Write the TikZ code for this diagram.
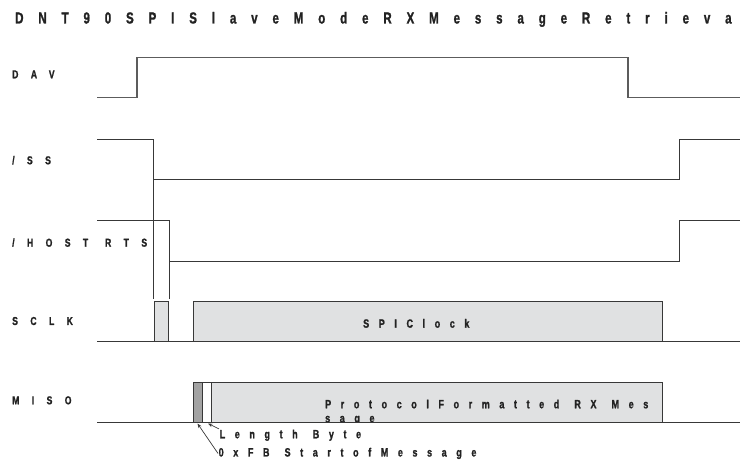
\documentclass[tikz,border=0pt]{standalone}
\usepackage{fontspec}
\setmainfont{Liberation Sans}
\newfontfamily\sigfont{Liberation Sans Bold}[FakeStretch=0.75,LetterSpace=108,FakeBold=1.2]
\newfontfamily\boxfont{Liberation Sans Bold}[FakeStretch=0.75,LetterSpace=80,FakeBold=1.2]
\newfontfamily\titlefont{Liberation Sans Bold}[FakeStretch=0.72,LetterSpace=93,FakeBold=1.2]
\usetikzlibrary{arrows.meta,positioning}
\definecolor{wire}{HTML}{383838}
\definecolor{davwire}{HTML}{5C5C5C}
\definecolor{clkfill}{HTML}{E0E1E2}
\definecolor{sofill}{HTML}{A3A3A3}
\definecolor{inkgray}{HTML}{222222}
\tikzset{
  wave/.style={draw=wire,line width=0.9pt},
  davwave/.style={draw=davwire,line width=1.1pt},
  sigbox/.style={draw=wire,line width=0.9pt,fill=clkfill},
  sofbox/.style={draw=wire,line width=0.9pt,fill=sofill},
  lenbox/.style={draw=wire,line width=0.9pt,fill=white},
  siglabel/.style={anchor=base west,inner sep=0pt,text=inkgray,
    font=\sigfont\fontsize{11.5}{13}\selectfont},
  boxtext/.style={anchor=base west,inner sep=0pt,text=inkgray,
    font=\boxfont\fontsize{12}{14}\selectfont},
  notetext/.style={anchor=base west,inner sep=0.5pt,text=inkgray,
    font=\boxfont\fontsize{12}{15}\selectfont},
  titletext/.style={anchor=base west,inner sep=0pt,text=inkgray,
    font=\titlefont\fontsize{16}{18}\selectfont},
  pointer/.style={draw=wire,line width=0.7pt,-{Stealth[length=4.5pt,width=3.5pt]}}
}

\begin{document}
\begin{tikzpicture}[x=1pt,y=-1pt]
	\useasboundingbox (0,0) rectangle (740,462);
	% title
	\node[titletext] (title) at (15,23.5) {DNT90SPISlaveModeRXMessageRetrieva};
	% signal names
	\node[siglabel] (davlbl) at (12,78.3) {DAV};
	\node[siglabel] (sslbl) at (12,164.3) {/SS};
	\node[siglabel] (rtslbl) at (12,246.7) {/HOST\hspace{2pt} RTS};
	\node[siglabel] (sclklbl) at (12,325) {SCLK};
	\node[siglabel] (misolbl) at (12,404.3) {MISO};
	% DAV
	\draw[davwave] (97,97.5)--(137,97.5)--(137,57.5)--(628,57.5)--(628,97.5)--(740,97.5);
	% /SS
	\draw[wave] (97,139)--(153.5,139)--(153.5,179.5)--(679,179.5)--(679,139)--(740,139);
	\draw[wave] (153.5,179.5)--(153.5,299);
	% /HOST RTS
	\draw[wave] (97,220)--(169.5,220)--(169.5,261)--(679,261)--(679,220)--(740,220);
	\draw[wave] (169.5,261)--(169.5,299);
	% SCLK
	\draw[wave] (97,341.5)--(740,341.5);
	\path[sigbox] (154.5,301.5) rectangle (168.5,341.5);
	\path[sigbox] (193.5,301.5) rectangle (662.5,341.5);
	\node[boxtext] (clktext) at (363,327.7) {SPIClock};
	% MISO
	\draw[wave] (97,422.5)--(740,422.5);
	\path[sigbox] (211,382) rectangle (662.5,422.5);
	\path[lenbox] (202.5,382) rectangle (211,422.5);
	\path[sofbox] (193.5,382) rectangle (202.5,422.5);
	\node[boxtext] (msgtext) at (325,408.3) {ProtocolFormatted\hspace{3pt} RX\hspace{3pt} Mes};
	\begin{scope}
		\clip (211,382) rectangle (662.5,422);
		\node[boxtext] (msgtail) at (325,422.3) {sage};
	\end{scope}
	\draw[wire,line width=0.9pt] (211,422.5)--(662.5,422.5);
	% byte notes
	\coordinate (lentip) at (208,423.5);
	\coordinate (softip) at (197.5,423.5);
	\node[notetext] (lenlbl) at (219,438.3) {Length\hspace{3pt} Byte};
	\node[notetext] (soflbl) at (218,456.5) {0xFB\hspace{3pt} StartofMessage};
	\draw[pointer] (lenlbl.north west) -- (lentip);
	\draw[pointer] (soflbl.west) -- (softip);
\end{tikzpicture}
\end{document}
